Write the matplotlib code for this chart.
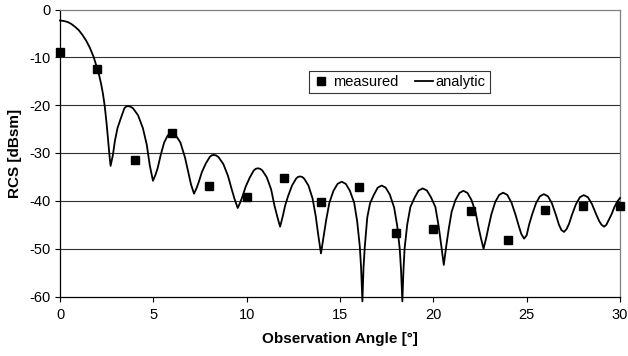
import matplotlib
matplotlib.use('Agg')
import matplotlib.pyplot as plt

plt.rcParams['font.family'] = ['Liberation Sans', 'DejaVu Sans']
plt.rcParams['axes.unicode_minus'] = False

# measured RCS, every 2 degrees
measured_angle = [0, 2, 4, 6, 8, 10, 12, 14, 16, 18, 20, 22, 24, 26, 28, 30]
measured_rcs = [-8.8, -12.5, -31.5, -25.8, -36.9, -39.3, -35.3, -40.2,
                -37.2, -46.8, -45.8, -42.2, -48.1, -41.9, -41.1, -41.1]

# analytic curve (one row per lobe)
analytic_angle = [
    0.0, 0.2, 0.4, 0.6, 0.8, 1.0, 1.2, 1.4, 1.6, 1.8, 2.0, 2.1, 2.2, 2.3, 2.4, 2.5, 2.6, 2.67, 2.71,
    2.83, 2.94, 3.08, 3.27, 3.45, 3.54, 3.64, 3.77, 3.91, 4.18, 4.44, 4.65, 4.81, 4.98,
    5.11, 5.23, 5.39, 5.58, 5.77, 5.87, 5.97, 6.09, 6.21, 6.45, 6.70, 6.88, 7.02, 7.18,
    7.32, 7.44, 7.60, 7.81, 8.02, 8.12, 8.23, 8.36, 8.49, 8.75, 9.00, 9.20, 9.35, 9.52,
    9.66, 9.79, 9.95, 10.17, 10.38, 10.49, 10.6, 10.72, 10.84, 11.08, 11.31, 11.49, 11.64, 11.79,
    11.93, 12.06, 12.22, 12.43, 12.65, 12.75, 12.86, 12.97, 13.08, 13.31, 13.53, 13.70, 13.83, 13.98,
    14.12, 14.26, 14.43, 14.65, 14.87, 15.09, 15.31, 15.53, 15.76, 15.92, 16.06, 16.13, 16.2,
    16.26, 16.33, 16.46, 16.61, 16.82, 17.02, 17.23, 17.45, 17.67, 17.90, 18.06, 18.20, 18.27, 18.34,
    18.40, 18.46, 18.60, 18.77, 19.0, 19.21, 19.43, 19.66, 19.88, 20.11, 20.28, 20.42, 20.56,
    20.69, 20.82, 20.98, 21.19, 21.40, 21.61, 21.83, 22.04, 22.26, 22.42, 22.55, 22.69,
    22.83, 22.95, 23.11, 23.32, 23.53, 23.74, 23.96, 24.19, 24.41, 24.58, 24.71, 24.86,
    25.0, 25.13, 25.28, 25.50, 25.71, 25.92, 26.14, 26.35, 26.57, 26.73, 26.86, 27.0,
    27.14, 27.27, 27.42, 27.64, 27.85, 28.06, 28.28, 28.50, 28.71, 28.88, 29.01, 29.15,
    29.27, 29.4, 29.55, 29.7, 29.85, 30.0,
]
analytic_rcs = [
    -2.3, -2.4, -2.6, -3.0, -3.6, -4.3, -5.3, -6.5, -8.0, -9.9, -12.4, -13.8, -15.5, -17.6, -20.3, -24.0, -28.3, -31.3, -32.7,
    -30.5, -27.5, -24.8, -22.6, -20.65, -20.3, -20.2, -20.3, -20.65, -22.1, -24.8, -28.3, -32.6, -35.8,
    -34.6, -33.2, -30.5, -27.8, -26.35, -26.0, -25.9, -26.0, -26.35, -27.8, -31.0, -34.2, -36.6, -38.5,
    -37.3, -36.0, -34.0, -32.2, -30.85, -30.5, -30.4, -30.5, -30.85, -32.3, -34.8, -37.6, -39.6, -41.5,
    -40.3, -38.9, -37.0, -35.1, -33.65, -33.3, -33.2, -33.3, -33.65, -35.1, -37.6, -41.0, -43.3, -45.4,
    -43.3, -41.0, -39.0, -36.8, -35.35, -35.0, -34.9, -35.0, -35.35, -36.8, -39.5, -43.2, -47.0, -51.0,
    -47.5, -44.0, -40.4, -37.9, -36.45, -36.0, -36.45, -37.9, -40.4, -44.3, -49.5, -54.0, -61.0,
    -54.0, -49.5, -43.5, -40.5, -38.7, -37.25, -36.8, -37.25, -38.7, -41.4, -45.1, -50.0, -54.5, -61.0,
    -54.5, -50.0, -45.0, -41.3, -39.3, -37.85, -37.4, -37.85, -39.3, -41.3, -45.2, -49.2, -53.4,
    -49.5, -46.0, -42.3, -39.8, -38.35, -37.9, -38.35, -39.8, -42.3, -45.5, -47.8, -50.0,
    -47.8, -45.6, -42.8, -40.2, -38.75, -38.3, -38.75, -40.4, -43.0, -45.3, -46.9, -47.9,
    -47.2, -45.0, -43.0, -40.5, -39.05, -38.6, -39.05, -40.5, -43.0, -45.0, -46.1, -46.5,
    -45.9, -44.8, -43.0, -40.7, -39.25, -38.8, -39.25, -40.7, -42.7, -44.2, -45.0, -45.4,
    -45.0, -44.0, -42.8, -41.3, -40.2, -39.4,
]

x_ticks = [0, 5, 10, 15, 20, 25, 30]
y_ticks = [0, -10, -20, -30, -40, -50, -60]

fig = plt.figure(figsize=(6.28, 3.56), dpi=100)
ax = fig.add_axes([60 / 628, 1 - 296.5 / 356, 560 / 628, 287 / 356])

# horizontal gridlines only
for yv in y_ticks[1:-1]:
    ax.axhline(yv, color='#303030', linewidth=0.8, zorder=1)

ax.plot(analytic_angle, analytic_rcs, color='black', linewidth=1.3,
        label='analytic', zorder=3, clip_on=False)
ax.plot(measured_angle, measured_rcs, linestyle='none', marker='s',
        markersize=5.2, color='black', label='measured', zorder=4, clip_on=False)

ax.set_xlim(0, 30)
ax.set_ylim(-60, 0)
ax.set_xticks(x_ticks)
ax.set_yticks(y_ticks)
ax.set_xticklabels([str(v) for v in x_ticks])
ax.set_yticklabels([str(v) for v in y_ticks])
ax.tick_params(axis='both', direction='out', length=3.6, width=0.8,
               labelsize=10.5, colors='black')
ax.tick_params(axis='x', pad=5)
ax.tick_params(axis='y', pad=3)

ax.spines['left'].set_color('black')
ax.spines['bottom'].set_color('black')
ax.spines['top'].set_color('#808080')
ax.spines['right'].set_color('#808080')
for s in ax.spines.values():
    s.set_linewidth(0.9)

ax.set_xlabel('Observation Angle [°]', fontsize=11, fontweight='bold')
ax.set_ylabel('RCS [dBsm]', fontsize=11, fontweight='bold')
ax.xaxis.set_label_coords(0.5, -0.125)
ax.yaxis.set_label_coords(-0.068, 0.5)

handles, labels = ax.get_legend_handles_labels()
leg = ax.legend(handles[::-1], labels[::-1], ncol=2, loc='center',
                bbox_to_anchor=((399 - 60) / 560, 1 - (82 - 9.5) / 287),
                fontsize=10.5, frameon=True, fancybox=False, handlelength=1.25,
                handletextpad=0.2, columnspacing=1.1, borderpad=0.25,
                borderaxespad=0)
leg.get_frame().set_edgecolor('black')
leg.get_frame().set_linewidth(0.8)

fig.savefig('out.png', dpi=100)
